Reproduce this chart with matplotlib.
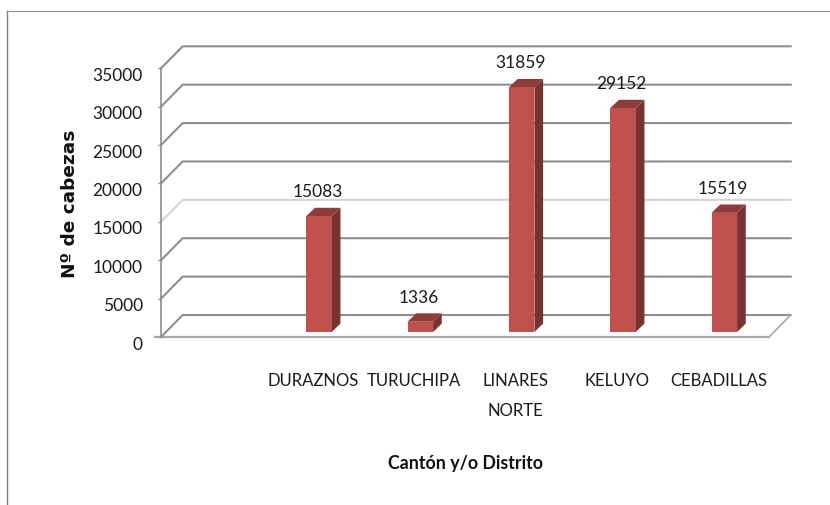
#!/usr/bin/env python3
"""Head of cattle per canton, drawn as Excel-style pseudo 3D columns."""

import matplotlib
matplotlib.use("Agg")
import matplotlib.pyplot as plt
from matplotlib.patches import Polygon
from matplotlib.transforms import ScaledTranslation

CATEGORIES = ["", "DURAZNOS", "TURUCHIPA", "LINARES\nNORTE", "KELUYO", "CEBADILLAS"]
VALUES = [None, 15083, 1336, 31859, 29152, 15519]
Y_TICKS = [0, 5000, 10000, 15000, 20000, 25000, 30000, 35000]

W, H = 830, 506
LEFT, RIGHT, TOP, BOTTOM = 161, 769, 69.3, 338

LABEL_FONT = ["Lato", "DejaVu Sans"]
GRID = "#8e8e8e"
FRONT = "#c0504d"
SIDE = "#7a3230"
ROOF = "#8f3b39"
INK = "#1a1a1a"

fig = plt.figure(figsize=(W / 100, H / 100), dpi=100, facecolor="white")
ax = fig.add_axes([LEFT / W, 1 - BOTTOM / H, (RIGHT - LEFT) / W, (BOTTOM - TOP) / H])
ax.set_xlim(-0.5, 5.5)
ax.set_ylim(0, 35000)

# pixel -> data sizes
px_x = 6 / (RIGHT - LEFT)
px_y = 35000 / (BOTTOM - TOP)
wall_dx, wall_dy = 21.7 * px_x, 22 * px_y
base_dx, base_dy = 6 * px_x, 5 * px_y
bar_dx, bar_dy = 8.7 * px_x, 8.4 * px_y
bar_w = 25.5 * px_x

# back wall gridlines with the diagonal on the left side
for tick in Y_TICKS:
    color = "#d4d4d4" if tick == 15000 else GRID
    ax.plot([-0.5, -0.5 + wall_dx, 5.5 + wall_dx], [tick, tick + wall_dy, tick + wall_dy],
            color=color, lw=1.5, clip_on=False, zorder=1, solid_joinstyle="miter")

# floor, right side
ax.plot([5.5, 5.5 + wall_dx], [0, wall_dy], color="#a8a8a8", lw=1.2, clip_on=False, zorder=1)
ax.plot([-0.5 - 6 * px_x, 5.5], [0, 0], color="#a8a8a8", lw=1.6, clip_on=False, zorder=2)

# columns
for i, val in enumerate(VALUES):
    if val is None:
        continue
    x0 = i - bar_w / 2 + base_dx
    x1 = x0 + bar_w
    ax.bar(x0, val, width=bar_w, bottom=base_dy, align="edge", color=FRONT, zorder=4, clip_on=False)
    top = base_dy + val
    ax.add_patch(Polygon([(x1, base_dy), (x1 + bar_dx, base_dy + bar_dy),
                          (x1 + bar_dx, top + bar_dy), (x1, top)],
                         color=SIDE, lw=0, zorder=3, clip_on=False))
    ax.add_patch(Polygon([(x0, top), (x0 + bar_dx, top + bar_dy),
                          (x1 + bar_dx, top + bar_dy), (x1, top)],
                         color=ROOF, lw=0, zorder=3, clip_on=False))
    ax.annotate(str(val), (i + base_dx - 1.5 * px_x, top), xytext=(0, 25 * 0.72),
                textcoords="offset points", ha="center", va="center",
                fontsize=12.5, family=LABEL_FONT, color=INK, zorder=5, annotation_clip=False)

for side in ["top", "right", "bottom"]:
    ax.spines[side].set_visible(False)
ax.spines["left"].set_color(GRID)
ax.spines["left"].set_linewidth(1.2)

ax.set_yticks(Y_TICKS)
ax.set_yticklabels([str(t) for t in Y_TICKS], fontsize=12.5, family=LABEL_FONT, color=INK,
                   va="center_baseline")
ax.tick_params(axis="y", length=2.2, width=1, color=GRID, pad=11)
# tick labels sit a little under their gridlines in the original
shift = ScaledTranslation(0, -5 / 100, fig.dpi_scale_trans)
for label in ax.get_yticklabels():
    label.set_transform(label.get_transform() + shift)

ax.set_xticks(range(len(CATEGORIES)))
ax.set_xticklabels(CATEGORIES, fontsize=12, family=LABEL_FONT, color=INK, linespacing=2.05, va="top")
ax.tick_params(axis="x", length=0, pad=25.5)

fig.text(465 / W, 1 - 464 / H, "Cantón y/o Distrito", ha="center", va="center",
         fontsize=12.8, fontweight="bold", family=LABEL_FONT, color="#111111")
fig.text(70 / W, 1 - 204 / H, "Nº de cabezas", ha="center", va="center", rotation=90,
         fontsize=13.3, fontweight="bold", family=["DejaVu Sans"], color="#111111")

# outer chart frame, cropped on the other sides
fig.add_artist(plt.Line2D([7 / W, 7 / W], [0, 1 - 12 / H], color="#808080", lw=1))
fig.add_artist(plt.Line2D([7 / W, 1], [1 - 11.5 / H, 1 - 11.5 / H], color="#909090", lw=0.8))

fig.savefig("out.png", dpi=100)
